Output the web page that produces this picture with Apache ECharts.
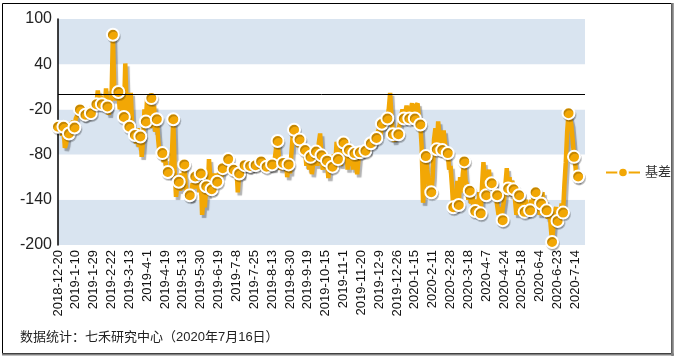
<!DOCTYPE html>
<html><head><meta charset="utf-8">
<script src="https://cdn.jsdelivr.net/npm/echarts@6/dist/echarts.min.js"></script>
<style>html,body{margin:0;padding:0;background:#fff}#c{width:676px;height:358px}</style>
</head><body><div id="c"></div>
<script>
// Trading-day categories: weekdays from start to end, minus exchange holidays
const startDate = '2018-12-20';
const endDate = '2020-07-16';
const holidays = ['2018-12-31','2019-01-01','2019-02-04','2019-02-05','2019-02-06','2019-02-07','2019-02-08',
  '2019-04-05','2019-05-01','2019-05-02','2019-05-03','2019-06-07','2019-09-13',
  '2019-10-01','2019-10-02','2019-10-03','2019-10-04','2019-10-07',
  '2020-01-01','2020-01-24','2020-01-27','2020-01-28','2020-01-29','2020-01-30','2020-01-31',
  '2020-04-06','2020-05-01','2020-05-04','2020-05-05','2020-06-25','2020-06-26'];
const yTicks = [-200, -140, -80, -20, 40, 100];
const seriesName = '基差';
const basis = [
-43,-45,-40,-55,-43,-71,-65,-50,-52,-38,-45,-35,-44,-32,-28,-22,-20,-30,-24,-33,
-27,-20,-28,-18,-25,-14,-22,-8,-13,5,-10,-2,-13,-5,-20,8,-16,-27,-10,-5,
79,5,-8,10,3,-20,-5,-25,-30,41,-15,-35,-43,2,-40,-60,-54,-65,-45,-70,
-56,-83,-60,-20,-36,-3,-40,-10,-5,-45,-15,-50,-33,-60,-80,-70,-78,-90,-85,-100,
-103,-95,-110,-80,-33,-100,-136,-120,-116,-128,-105,-125,-93,-120,-138,-125,-134,-140,-118,-125,
-109,-125,-100,-130,-105,-160,-140,-150,-122,-135,-86,-110,-126,-130,-105,-120,-116,-108,-98,-110,
-98,-90,-100,-85,-86,-95,-88,-105,-100,-110,-95,-130,-105,-98,-110,-92,-94,-100,-88,-102,
-95,-90,-100,-92,-94,-98,-86,-96,-89,-100,-92,-98,-96,-88,-100,-90,-93,-100,-85,-70,
-62,-85,-100,-95,-91,-100,-85,-110,-93,-105,-80,-55,-47,-65,-50,-70,-60,-75,-65,-80,
-74,-95,-70,-100,-83,-106,-90,-70,-76,-95,-65,-52,-81,-100,-75,-95,-88,-111,-90,-100,
-96,-80,-95,-63,-86,-75,-95,-70,-64,-80,-68,-100,-74,-95,-80,-100,-78,-90,-106,-85,
-77,-82,-72,-80,-75,-70,-78,-68,-65,-60,-68,-55,-58,-50,-45,-55,-39,-45,-30,-38,
-32,-20,2,-30,-53,-63,-45,-55,-53,-40,-30,-20,-32,-25,-15,-30,-32,-20,-12,-25,
-32,-15,-12,-30,-40,-70,-144,-120,-82,-100,-115,-125,-130,-110,-60,-45,-73,-36,-55,-80,
-74,-48,-65,-85,-78,-100,-95,-120,-150,-130,-140,-115,-147,-110,-130,-105,-89,-115,-120,-140,
-128,-145,-135,-150,-155,-140,-150,-130,-158,-120,-90,-115,-134,-110,-100,-125,-118,-130,-115,-135,
-134,-160,-150,-165,-167,-140,-120,-98,-125,-110,-135,-115,-126,-140,-160,-145,-134,-155,-130,-150,
-156,-140,-160,-145,-154,-140,-150,-125,-130,-150,-135,-160,-145,-130,-150,-140,-154,-165,-150,-175,
-196,-175,-155,-150,-168,-150,-160,-145,-157,-120,-90,-50,-25,-32,-40,-60,-83,-95,-115,-109
];
const footnote = '数据统计：七禾研究中心（2020年7月16日）';

function pad(n){return (n<10?'0':'')+n;}
const categories = [];
(function(){
  const hs = new Set(holidays);
  const d = new Date(startDate+'T00:00:00Z'), e = new Date(endDate+'T00:00:00Z');
  while (d <= e) {
    const wd = d.getUTCDay();
    const key = d.getUTCFullYear()+'-'+pad(d.getUTCMonth()+1)+'-'+pad(d.getUTCDate());
    if (wd !== 0 && wd !== 6 && !hs.has(key)) categories.push(d.getUTCFullYear()+'-'+(d.getUTCMonth()+1)+'-'+d.getUTCDate());
    d.setUTCDate(d.getUTCDate()+1);
  }
})();

const ORANGE = '#F2A705';
const FONT = '"Liberation Sans", Arial, "Noto Sans CJK SC", sans-serif';
const lastIdx = basis.length - 1;
const chart = echarts.init(document.getElementById('c'), null, {renderer:'canvas'});
chart.setOption({
  animation: false,
  backgroundColor: '#fff',
  grid: {left: 58, right: 91, top: 19, bottom: 113, containLabel: false},
  xAxis: {
    type: 'category', data: categories, boundaryGap: false, max: 384,
    axisLine: {show: false}, axisTick: {show: false},
    axisLabel: {interval: 12, rotate: 90, margin: 5, color: '#111', fontSize: 13, fontFamily: FONT},
    splitLine: {show: false}
  },
  yAxis: {
    type: 'value', min: yTicks[0], max: yTicks[yTicks.length-1], interval: 60,
    axisLine: {show: true, lineStyle: {color: '#000', width: 1.5}},
    axisTick: {show: false},
    axisLabel: {color: '#222', fontSize: 16, fontFamily: FONT, margin: 6},
    splitLine: {show: false},
    splitArea: {show: true, areaStyle: {color: ['#d9e4f0', '#ffffff']}}
  },
  legend: {
    left: 600, top: 161, orient: 'vertical', itemWidth: 34, itemHeight: 12,
    textStyle: {color: '#333', fontSize: 13, fontFamily: FONT},
    data: [seriesName]
  },
  graphic: [
    {type: 'rect', shape: {x: 2.5, y: 3.5, width: 669, height: 350}, style: {fill: 'none', stroke: '#000', lineWidth: 1}, silent: true},
    {type: 'line', shape: {x1: 672.5, y1: 3, x2: 672.5, y2: 356}, style: {stroke: '#808080', lineWidth: 2.5}, silent: true},
    {type: 'line', shape: {x1: 2, y1: 354.5, x2: 674, y2: 354.5}, style: {stroke: '#808080', lineWidth: 2}, silent: true},
    {type: 'text', left: 20, top: 331, style: {text: footnote, fill: '#222', font: '13px ' + FONT}, silent: true}
  ],
  series: [{
    name: seriesName, type: 'line', data: basis,
    symbol: 'circle', showAllSymbol: true,
    symbolSize: function (v, p) { return (p && (p.dataIndex % 4 === 0 || p.dataIndex === lastIdx)) ? 12 : 0; },
    lineStyle: {color: ORANGE, width: 4.5, shadowColor: 'rgba(0,0,0,0.3)', shadowOffsetX: 2, shadowOffsetY: 3, shadowBlur: 1},
    itemStyle: {color: ORANGE, borderColor: '#fff', borderWidth: 2, shadowColor: 'rgba(0,0,0,0.2)', shadowOffsetX: 1, shadowOffsetY: 2},
    markLine: {silent: true, symbol: 'none', label: {show: false}, lineStyle: {color: '#000', width: 1, type: 'solid'}, data: [{yAxis: 0}]},
    z: 3
  }]
});
</script></body></html>
